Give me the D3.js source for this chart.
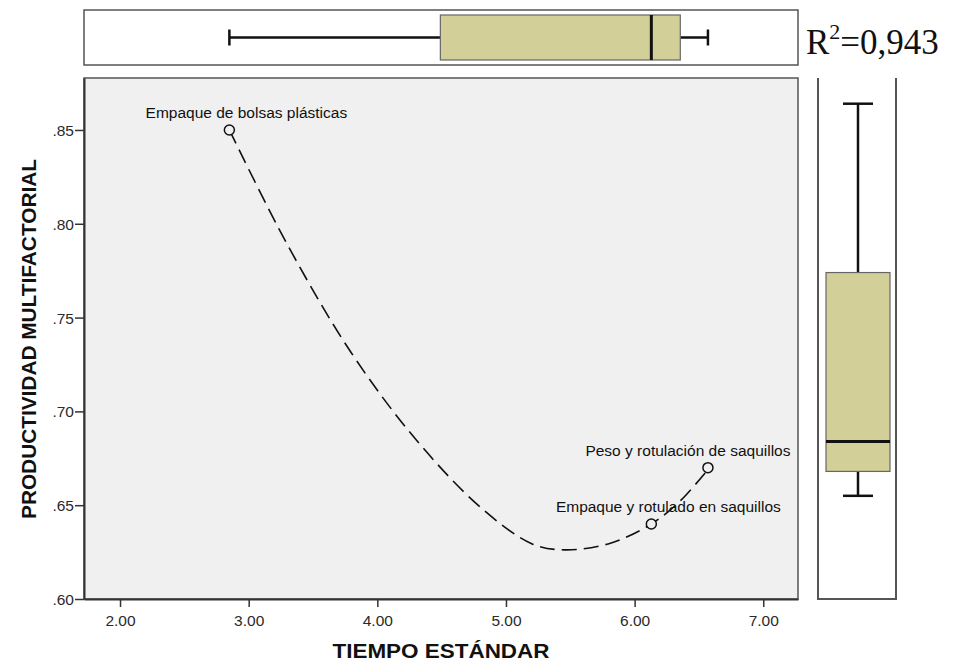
<!DOCTYPE html>
<html>
<head>
<meta charset="utf-8">
<script src="https://cdn.jsdelivr.net/npm/d3@7"></script>
<style>
  body { margin: 0; background: #fff; }
  svg { display: block; }
</style>
</head>
<body>
<svg id="chart" width="955" height="663"></svg>
<script>
// data
const pointX = [2.85, 6.13, 6.57];
const pointY = [0.85, 0.64, 0.67];
const pointLabels = ["Empaque de bolsas plásticas", "Empaque y rotulado en saquillos", "Peso y rotulación de saquillos"];

// fitted curve
const fitX = [2.85, 3.30, 3.80, 4.30, 4.80, 5.20, 5.45, 5.80, 6.13, 6.35, 6.57];
const fitY = [0.85, 0.789, 0.731, 0.685, 0.649, 0.6295, 0.6262, 0.6295, 0.640, 0.652, 0.669];

// box plot stats: min, q1, median, q3, max
const xBoxStats = [2.85, 4.49, 6.13, 6.355, 6.57];
const yBoxStats = [0.655, 0.668, 0.684, 0.774, 0.864];

const xTicks = [2, 3, 4, 5, 6, 7];
const yTicks = [0.60, 0.65, 0.70, 0.75, 0.80, 0.85];
const rSquared = "0,943";

const svg = d3.select("#chart");
const plot = { left: 84, right: 798, top: 78, bottom: 599 };
const topPanel = { top: 10, bottom: 65 };
const sidePanel = { left: 818, right: 896 };
const boxFill = "#d3cf99";
const frame = "#555";
const sans = "Liberation Sans, Arial, sans-serif";

const x = d3.scaleLinear().domain([1.72, 7.27]).range([plot.left, plot.right]);
const y = d3.scaleLinear().domain([0.60, 0.8777]).range([plot.bottom, plot.top]);

// main panel
svg.append("rect")
  .attr("x", plot.left).attr("y", plot.top)
  .attr("width", plot.right - plot.left).attr("height", plot.bottom - plot.top)
  .attr("fill", "#f0f0f0").attr("stroke", frame).attr("stroke-width", 1.5);

// axes
const xAxis = svg.append("g")
  .attr("transform", `translate(0,${plot.bottom})`)
  .call(d3.axisBottom(x).tickValues(xTicks).tickFormat(d3.format(".2f")).tickSize(8).tickSizeOuter(0));
const yAxis = svg.append("g")
  .attr("transform", `translate(${plot.left},0)`)
  .call(d3.axisLeft(y).tickValues(yTicks).tickFormat(d => d3.format(".2f")(d).replace(/^0/, "")).tickSize(9).tickSizeOuter(0));

[xAxis, yAxis].forEach(g => {
  g.select(".domain").attr("stroke", "#333").attr("stroke-width", 2);
  g.selectAll(".tick line").attr("stroke", "#333").attr("stroke-width", 1.5);
  g.selectAll(".tick text")
    .attr("fill", "#2a2a2a")
    .style("font-family", sans)
    .style("font-size", "15.5px");
});
xAxis.selectAll(".tick text").attr("y", 27).attr("dy", 0);
yAxis.selectAll(".tick text").attr("x", -10).attr("dy", "0.36em");

// axis titles
svg.append("text")
  .attr("x", 441).attr("y", 658)
  .attr("text-anchor", "middle")
  .attr("textLength", 217).attr("lengthAdjust", "spacingAndGlyphs")
  .attr("fill", "#111")
  .style("font-family", sans)
  .style("font-size", "21px").style("font-weight", "bold")
  .text("TIEMPO ESTÁNDAR");
svg.append("text")
  .attr("transform", `translate(36,339) rotate(-90)`)
  .attr("text-anchor", "middle")
  .attr("textLength", 360).attr("lengthAdjust", "spacingAndGlyphs")
  .attr("fill", "#111")
  .style("font-family", sans)
  .style("font-size", "21px").style("font-weight", "bold")
  .text("PRODUCTIVIDAD MULTIFACTORIAL");

// fit curve
const fitData = fitX.map((v, i) => [v, fitY[i]]);
svg.append("path")
  .datum(fitData)
  .attr("fill", "none")
  .attr("stroke", "#111")
  .attr("stroke-width", 1.6)
  .attr("stroke-dasharray", "15,7")
  .attr("d", d3.line().x(d => x(d[0])).y(d => y(d[1])).curve(d3.curveCatmullRom.alpha(0.5)));

// points + labels
const labelShift = [[17, -12], [17, -12], [-20, -12]];
pointX.forEach((v, i) => {
  svg.append("circle")
    .attr("cx", x(v)).attr("cy", y(pointY[i])).attr("r", 5)
    .attr("fill", "#f0f0f0").attr("stroke", "#111").attr("stroke-width", 1.5);
  svg.append("text")
    .attr("x", x(v) + labelShift[i][0]).attr("y", y(pointY[i]) + labelShift[i][1])
    .attr("text-anchor", "middle")
    .attr("fill", "#111")
    .style("font-family", sans)
    .style("font-size", "15.5px")
    .text(pointLabels[i]);
});

// top box plot (x variable)
svg.append("rect")
  .attr("x", plot.left).attr("y", topPanel.top)
  .attr("width", plot.right - plot.left).attr("height", topPanel.bottom - topPanel.top)
  .attr("fill", "#fff").attr("stroke", frame).attr("stroke-width", 1.5);
const ty0 = topPanel.top + 5, ty1 = topPanel.bottom - 5, tyc = (topPanel.top + topPanel.bottom) / 2;
const tg = svg.append("g").attr("stroke", "#111").attr("stroke-width", 2.5);
tg.append("line").attr("x1", x(xBoxStats[0])).attr("x2", x(xBoxStats[1])).attr("y1", tyc).attr("y2", tyc);
tg.append("line").attr("x1", x(xBoxStats[3])).attr("x2", x(xBoxStats[4])).attr("y1", tyc).attr("y2", tyc);
tg.append("line").attr("x1", x(xBoxStats[0])).attr("x2", x(xBoxStats[0])).attr("y1", tyc - 8).attr("y2", tyc + 8);
tg.append("line").attr("x1", x(xBoxStats[4])).attr("x2", x(xBoxStats[4])).attr("y1", tyc - 8).attr("y2", tyc + 8);
svg.append("rect")
  .attr("x", x(xBoxStats[1])).attr("y", ty0)
  .attr("width", x(xBoxStats[3]) - x(xBoxStats[1])).attr("height", ty1 - ty0)
  .attr("fill", boxFill).attr("stroke", "#666").attr("stroke-width", 1.2);
svg.append("line")
  .attr("x1", x(xBoxStats[2])).attr("x2", x(xBoxStats[2])).attr("y1", ty0).attr("y2", ty1)
  .attr("stroke", "#111").attr("stroke-width", 3);

// right box plot (y variable)
const sg = svg.append("g").attr("stroke", frame).attr("stroke-width", 2).attr("fill", "none");
sg.append("path").attr("d", `M${sidePanel.left},${plot.top}V${plot.bottom}H${sidePanel.right}V${plot.top}`);
const sx0 = sidePanel.left + 8, sx1 = sidePanel.right - 6, sxc = (sx0 + sx1) / 2;
const wg = svg.append("g").attr("stroke", "#111").attr("stroke-width", 2.5);
wg.append("line").attr("x1", sxc).attr("x2", sxc).attr("y1", y(yBoxStats[4])).attr("y2", y(yBoxStats[3]));
wg.append("line").attr("x1", sxc).attr("x2", sxc).attr("y1", y(yBoxStats[1])).attr("y2", y(yBoxStats[0]));
wg.append("line").attr("x1", sxc - 15).attr("x2", sxc + 15).attr("y1", y(yBoxStats[4])).attr("y2", y(yBoxStats[4]));
wg.append("line").attr("x1", sxc - 15).attr("x2", sxc + 15).attr("y1", y(yBoxStats[0])).attr("y2", y(yBoxStats[0]));
svg.append("rect")
  .attr("x", sx0).attr("y", y(yBoxStats[3]))
  .attr("width", sx1 - sx0).attr("height", y(yBoxStats[1]) - y(yBoxStats[3]))
  .attr("fill", boxFill).attr("stroke", "#666").attr("stroke-width", 1.2);
svg.append("line")
  .attr("x1", sx0).attr("x2", sx1).attr("y1", y(yBoxStats[2])).attr("y2", y(yBoxStats[2]))
  .attr("stroke", "#111").attr("stroke-width", 3);

// R squared
const rt = svg.append("text")
  .attr("x", 806).attr("y", 54)
  .style("font-family", "Liberation Serif, Times New Roman, serif")
  .style("font-size", "35px")
  .attr("fill", "#111");
rt.append("tspan").text("R");
rt.append("tspan").attr("dy", -15).style("font-size", "22px").text("2");
rt.append("tspan").attr("dy", 15).text("=" + rSquared);
</script>
</body>
</html>
